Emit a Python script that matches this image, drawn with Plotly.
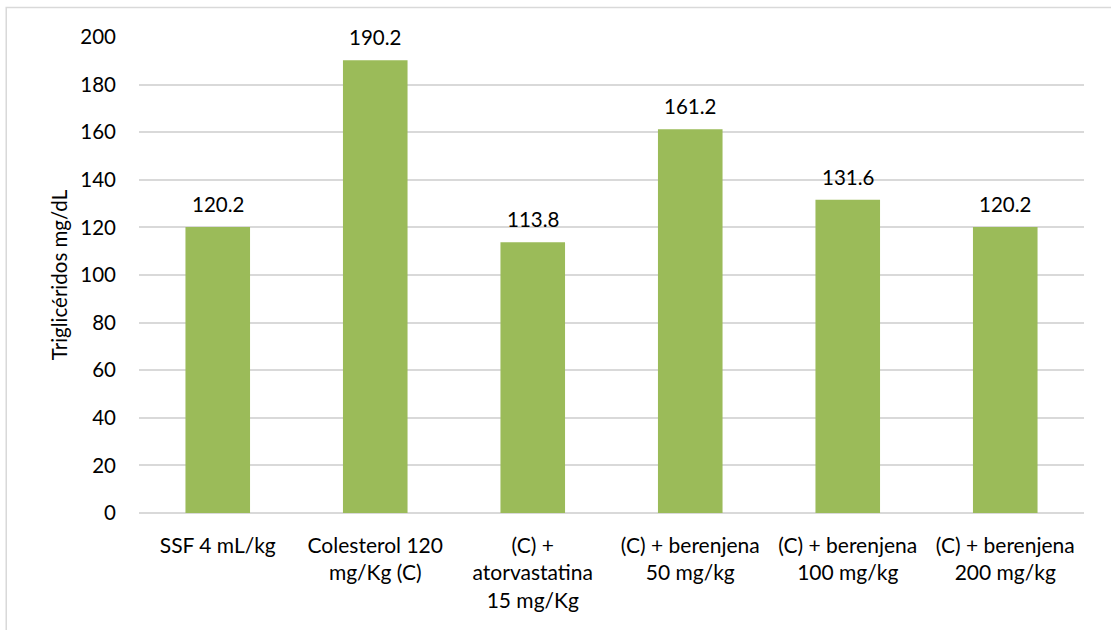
import plotly.graph_objects as go

categories = [
    "SSF 4 mL/kg",
    "Colesterol 120<br>mg/Kg (C)",
    "(C) +<br>atorvastatina<br>15 mg/Kg",
    "(C) + berenjena<br>50 mg/kg",
    "(C) + berenjena<br>100 mg/kg",
    "(C) + berenjena<br>200 mg/kg",
]
values = [120.2, 190.2, 113.8, 161.2, 131.6, 120.2]
y_ticks = [0, 20, 40, 60, 80, 100, 120, 140, 160, 180, 200]

FONT = "Lato"
FS = 20.5
BAR_COLOR = "#9BBB59"

fig = go.Figure(
    go.Bar(
        x=categories,
        y=values,
        marker=dict(color=BAR_COLOR, line=dict(width=0)),
        width=0.41,
        hoverinfo="x+y",
    )
)

# value labels above each bar
for c, v in zip(categories, values):
    fig.add_annotation(
        x=c, y=v, xref="x", yref="y",
        text=f"{v:.1f}", showarrow=False,
        yanchor="bottom", yshift=9,
        font=dict(family=FONT, size=FS, color="#000000"),
    )

fig.update_layout(
    width=1111,
    height=630,
    margin=dict(l=139, r=27, t=37, b=117),
    paper_bgcolor="white",
    plot_bgcolor="white",
    showlegend=False,
    font=dict(family=FONT, size=FS, color="#000000"),
    bargap=0.59,
    xaxis=dict(
        showgrid=False,
        showline=False,
        ticks="",
        tickfont=dict(family=FONT, size=21),
        ticklabelstandoff=18,
    ),
    yaxis=dict(
        range=[0, 200],
        tickvals=y_ticks,
        showgrid=True,
        gridcolor="#D9D9D9",
        gridwidth=1.5,
        zeroline=True,
        zerolinecolor="#D9D9D9",
        zerolinewidth=1.5,
        showline=False,
        ticks="",
        tickfont=dict(family=FONT, size=FS),
        ticklabelstandoff=22,
        title=dict(text="Triglicéridos mg/dL", font=dict(family=FONT, size=FS), standoff=7),
    ),
    shapes=[
        dict(
            type="rect", xref="paper", yref="paper",
            x0=-0.1405, x1=1.2, y0=-0.5, y1=1.062,
            line=dict(color="#D9D9D9", width=1.5),
            fillcolor="rgba(0,0,0,0)",
            layer="below",
        )
    ],
)

fig.write_html("out.html")
